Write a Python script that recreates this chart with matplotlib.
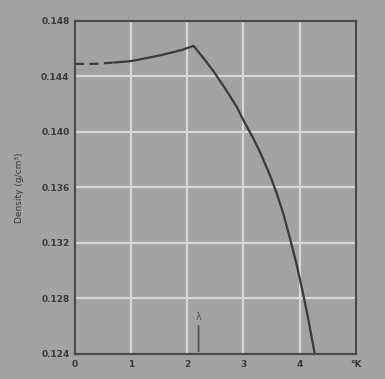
import matplotlib
matplotlib.use("Agg")
import matplotlib.pyplot as plt

# data
t_dashed = [0.0, 0.35, 0.7]
rho_dashed = [0.1449, 0.1449, 0.1450]
t_solid = [0.7, 1.0, 1.25, 1.5, 1.7, 1.9, 2.11, 2.29, 2.47, 2.71, 2.88, 3.03,
           3.18, 3.30, 3.48, 3.59, 3.71, 3.83, 3.95, 4.07, 4.15, 4.27]
rho_solid = [0.1450, 0.1451, 0.1453, 0.1455, 0.1457, 0.1459, 0.1462, 0.1453,
             0.14435, 0.1429, 0.1418, 0.1406, 0.1395, 0.1385, 0.1368, 0.1356,
             0.1341, 0.1323, 0.1304, 0.1282, 0.1266, 0.1240]
x_ticks = [0, 1, 2, 3, 4]
y_ticks = [0.124, 0.128, 0.132, 0.136, 0.140, 0.144, 0.148]
lambda_t = 2.2

bg = "#a2a2a2"
ink = "#3a3a3a"

fig = plt.figure(figsize=(3.85, 3.79), dpi=100, facecolor=bg)
ax = fig.add_axes([0.195, 0.066, 0.729, 0.879], facecolor=bg)

ax.set_xlim(0, 5)
ax.set_ylim(0.124, 0.148)
ax.set_xticks(x_ticks + [5])
ax.set_xticklabels([str(v) for v in x_ticks] + ["°K"])
ax.set_yticks(y_ticks)
ax.set_yticklabels([f"{v:.3f}" for v in y_ticks])
ax.grid(True, color="#d6d6d6", lw=1.6)
ax.set_axisbelow(True)
ax.tick_params(length=0, labelsize=6.5, colors=ink, pad=4)
for lab in ax.get_xticklabels() + ax.get_yticklabels():
    lab.set_fontweight("bold")
for s in ax.spines.values():
    s.set_color("#4a4a4a")
    s.set_linewidth(1.6)

ax.plot(t_dashed, rho_dashed, color=ink, lw=1.6, ls=(0, (4, 2.5)))
ax.plot(t_solid, rho_solid, color=ink, lw=1.6, solid_joinstyle="round")

ax.set_ylabel("Density (g/cm³)", fontsize=6.5, color=ink, labelpad=12)

# lambda marker
ax.annotate("", xy=(lambda_t, 0.1262), xytext=(lambda_t, 0.124),
            arrowprops=dict(arrowstyle="-", color="#555555", lw=1.4))
ax.text(lambda_t, 0.1263, "λ", ha="center", va="bottom", fontsize=7, color="#555555")

fig.savefig("out.png", dpi=100, facecolor=bg)
